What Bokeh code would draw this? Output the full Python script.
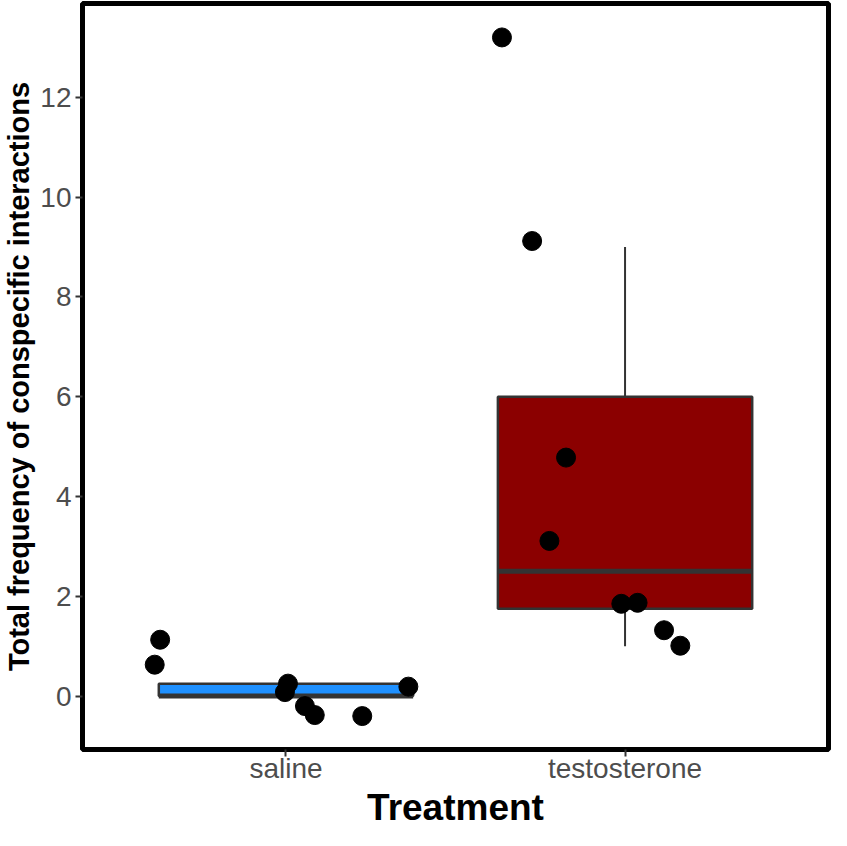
from bokeh.plotting import figure
from bokeh.models import Range1d, FixedTicker, ColumnDataSource
from bokeh.embed import file_html
from bokeh.resources import INLINE

# ---- data ----
treatments = ["saline", "testosterone"]
box_fill = ["#1E90FF", "#8B0000"]
q1 = [0.0, 1.75]
median = [0.0, 2.5]
q3 = [0.25, 6.0]
whisk_lo = [0.0, 1.0]
whisk_hi = [0.25, 9.0]

point_group = [1, 1, 1, 1, 1, 1, 1, 1, 2, 2, 2, 2, 2, 2, 2, 2]
point_jitter = [-0.371, -0.387, 0.006, -0.003, 0.056, 0.085, 0.225, 0.361,
                -0.363, -0.274, -0.174, -0.223, -0.011, 0.037, 0.115, 0.163]
point_y = [1.13, 0.63, 0.25, 0.08, -0.20, -0.38, -0.40, 0.19,
           13.2, 9.12, 4.78, 3.11, 1.85, 1.87, 1.32, 1.01]

y_ticks = [0, 2, 4, 6, 8, 10, 12]

FONT = "Liberation Sans"
BOX_W = 0.75

pos = [i + 1 for i in range(len(treatments))]
box_src = ColumnDataSource(dict(x=pos, q1=q1, med=median, q3=q3, lo=whisk_lo, hi=whisk_hi,
                                fill=box_fill,
                                left=[x - BOX_W / 2 for x in pos],
                                right=[x + BOX_W / 2 for x in pos]))
pt_src = ColumnDataSource(dict(x=[g + j for g, j in zip(point_group, point_jitter)], y=point_y))

p = figure(width=831, height=830, output_backend="svg", toolbar_location=None,
           x_range=Range1d(0.4, 2.6), y_range=Range1d(-1.07, 13.88),
           min_border_top=3, min_border_right=3, min_border_left=0, min_border_bottom=0)

p.background_fill_color = "white"
p.border_fill_color = "white"
p.outline_line_color = "black"
p.outline_line_width = 5
p.grid.visible = False

# whiskers
p.segment(x0="x", x1="x", y0="q3", y1="hi", source=box_src, line_color="#333333", line_width=2)
p.segment(x0="x", x1="x", y0="lo", y1="q1", source=box_src, line_color="#333333", line_width=2)
# boxes
p.quad(left="left", right="right", bottom="q1", top="q3", source=box_src,
       fill_color="fill", line_color="#333333", line_width=2.5)
# medians
p.segment(x0="left", x1="right", y0="med", y1="med", source=box_src,
          line_color="#333333", line_width=5)
# points
p.scatter(x="x", y="y", source=pt_src, size=19, fill_color="black", line_color="black")

# axes
p.xaxis.ticker = FixedTicker(ticks=pos)
p.xaxis.major_label_overrides = {x: t for x, t in zip(pos, treatments)}
p.yaxis.ticker = FixedTicker(ticks=y_ticks)
for ax in (p.xaxis[0], p.yaxis[0]):
    ax.axis_line_color = None
    ax.minor_tick_line_color = None
    ax.major_tick_in = 0
    ax.major_tick_out = 7
    ax.major_tick_line_color = "#333333"
    ax.major_tick_line_width = 2
    ax.major_label_text_font = FONT
    ax.major_label_text_font_size = "28px"
    ax.major_label_text_color = "#4D4D4D"
    ax.axis_label_text_font = FONT
    ax.axis_label_text_font_style = "bold"
    ax.axis_label_text_color = "black"

p.xaxis.axis_label = "Treatment"
p.xaxis.axis_label_text_font_size = "37px"
p.xaxis.major_label_standoff = -4
p.xaxis.axis_label_standoff = 0
p.yaxis.axis_label = "Total frequency of conspecific interactions"
p.yaxis.axis_label_text_font_size = "29px"
p.yaxis.major_label_standoff = 4
p.yaxis.axis_label_standoff = 2

open("out.html", "w").write(file_html(p, INLINE))
